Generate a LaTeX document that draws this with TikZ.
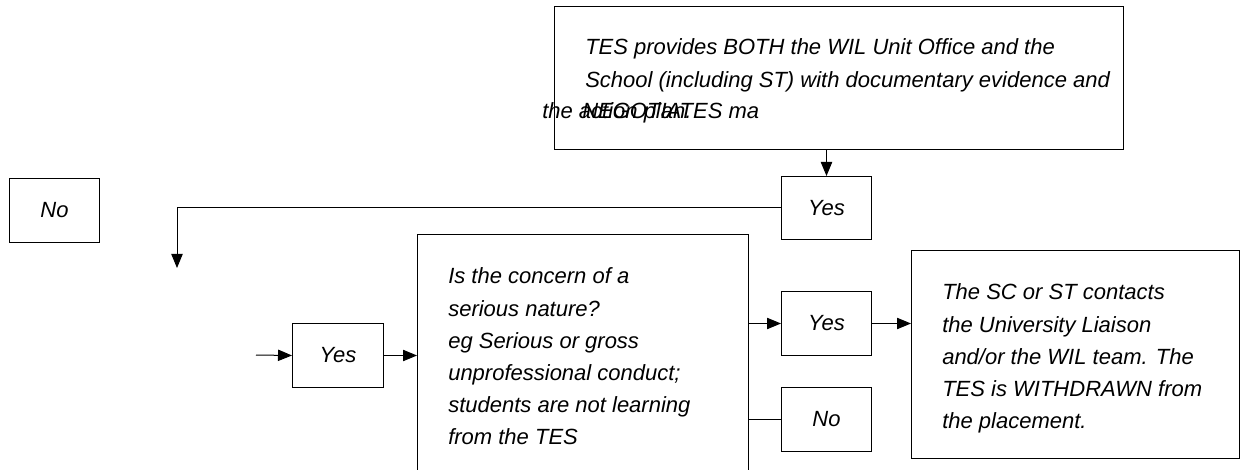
\documentclass[tikz,border=0pt]{standalone}
\usepackage{fontspec}
\setmainfont{Liberation Sans}
\usetikzlibrary{arrows.meta}
\begin{document}
\begin{tikzpicture}[x=0.75pt,y=-0.75pt,
  box/.style={draw, line width=0.75pt, inner sep=0pt, anchor=north west, rectangle,
    font=\fontsize{16.5pt}{20pt}\selectfont\itshape},
  txt/.style={inner sep=0pt, anchor=base west, font=\fontsize{16.5pt}{20pt}\selectfont\itshape},
  arr/.style={-{Triangle[length=10.5pt,width=8.5pt]}, line width=0.75pt},
  conn/.style={line width=0.75pt}]
\clip (0,0) rectangle (1242,470);
\fill[white] (0,0) rectangle (1242,470);

% boxes
\node[box, minimum width=426.75pt, minimum height=107.25pt] (top) at (554,6) {};
\node[box, minimum width=67.5pt, minimum height=47.25pt] (ya) at (781,176) {Yes};
\node[box, minimum width=67.5pt, minimum height=48pt] (nl) at (9,178) {No};
\node[box, minimum width=68.25pt, minimum height=48pt] (ys) at (292,323) {Yes};
\node[box, minimum width=248.25pt, minimum height=183pt] (q) at (417,234) {};
\node[box, minimum width=67.5pt, minimum height=48pt] (y2) at (781,291) {Yes};
\node[box, minimum width=67.5pt, minimum height=48pt] (n2) at (781,387) {No};
\node[box, minimum width=246pt, minimum height=156pt] (r) at (911,250) {};

% top text
\node[txt] (t1) at (585,55) {TES provides BOTH the WIL Unit Office and the};
\node[txt] (t2) at (585,88) {School (including ST) with documentary evidence and};
\node[txt] (t3) at (542,119) {the action plan.};
\node[txt] (t4) at (582,119) {NEGOTIATES ma};

% question text
\foreach \s [count=\i] in {{Is the concern of a},{serious nature?},{eg Serious or gross},{unprofessional conduct;},{students are not learning},{from the TES}}
  \node[txt] (qt\i) at (448,252+32*\i) {\s};

% result text
\foreach \s [count=\i] in {{The SC or ST contacts},{the University Liaison},{and/or the WIL team. The},{TES is WITHDRAWN from},{the placement.}}
  \node[txt] (rt\i) at (942,268+32*\i) {\s};

% connectors
\coordinate (dn) at (177,268);
\coordinate (in) at (256,355);
\draw[arr] (ya.north |- top.south) -- (ya.north);
\draw[arr] (ya.west) -| (dn);
\draw[arr] (in) -- (ys.west);
\draw[arr] (ys.east) -- (ys.east -| q.west);
\draw[arr] (y2.west -| q.east) -- (y2.west);
\draw[conn] (n2.west -| q.east) -- (n2.west);
\draw[arr] (y2.east) -- (y2.east -| r.west);
\end{tikzpicture}
\end{document}
